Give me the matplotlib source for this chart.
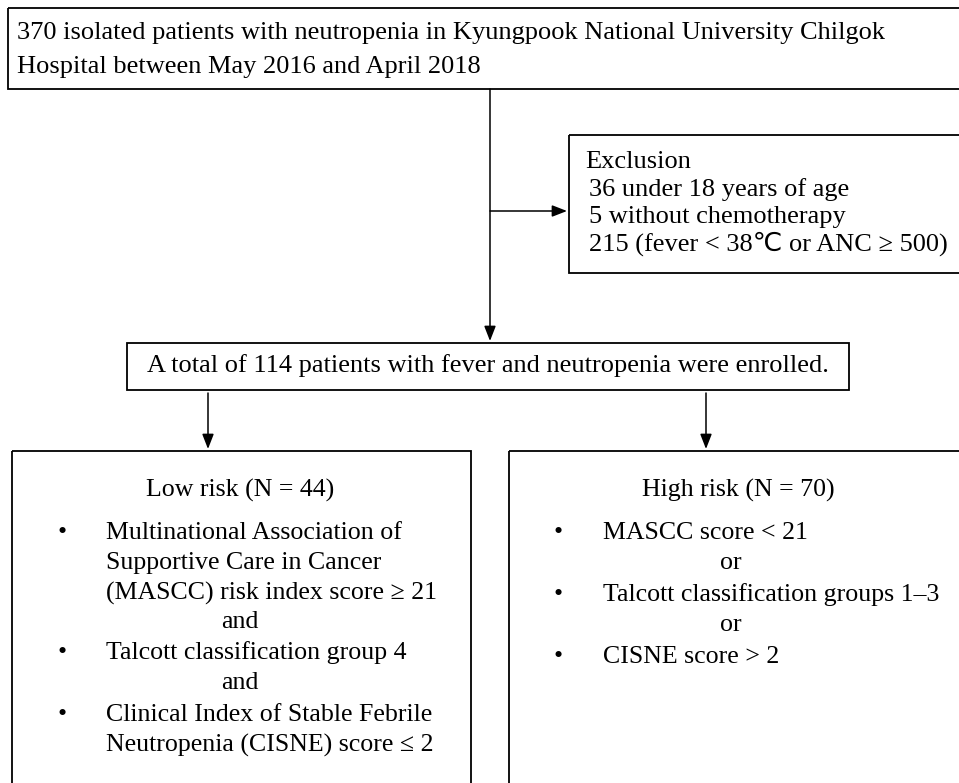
import matplotlib
matplotlib.use("Agg")
import matplotlib.pyplot as plt
from matplotlib.patches import Rectangle

# ---- content ----
top_lines = ["370 isolated patients with neutropenia in Kyungpook National University Chilgok",
             "Hospital between May 2016 and April 2018"]
excl_title = "Exclusion"
excl_items = ["36 under 18 years of age", "5 without chemotherapy",
              "215 (fever < 38\u2103 or ANC \u2265 500)"]
mid_text = "A total of 114 patients with fever and neutropenia were enrolled."
low_title = "Low risk (N = 44)"
low_items = [["Multinational Association of", "Supportive Care in Cancer",
              "(MASCC) risk index score \u2265 21"],
             ["Talcott classification group 4"],
             ["Clinical Index of Stable Febrile", "Neutropenia (CISNE) score \u2264 2"]]
low_join = "and"
high_title = "High risk (N = 70)"
high_items = [["MASCC score < 21"], ["Talcott classification groups 1\u20133"], ["CISNE score > 2"]]
high_join = "or"

W, H = 959, 783
fig = plt.figure(figsize=(W / 100, H / 100), dpi=100)
ax = fig.add_axes([0, 0, 1, 1])
ax.set_xlim(0, W)
ax.set_ylim(H, 0)
ax.axis("off")

FONT = ["Liberation Serif", "DejaVu Sans"]
lw = 1.3

def box(x0, y0, x1, y1):
    ax.add_patch(Rectangle((x0, y0), x1 - x0, y1 - y0, fill=False, ec="black", lw=lw))

def arrow(x0, y0, x1, y1):
    ax.annotate("", xy=(x1, y1), xytext=(x0, y0),
                arrowprops=dict(arrowstyle="-|>,head_length=0.9,head_width=0.35",
                                color="black", lw=1.1, shrinkA=0, shrinkB=0))

# boxes
box(8, 8, 970, 89)
box(569, 135, 970, 273)
box(127, 343, 849, 390)
box(12, 451, 471, 800)
box(509, 451, 970, 800)

# arrows
arrow(490, 89, 490, 341)
arrow(490, 211, 567, 211)
arrow(208, 393, 208, 449)
arrow(706, 393, 706, 449)

# top text
fs_top = 19
for i, t in enumerate(top_lines):
    ax.text(17, 33 + i * 34, t, fontsize=fs_top, family=FONT, va="center", ha="left")

# exclusion
fs_ex = 19
ax.text(585, 162, excl_title, fontsize=fs_ex, family=FONT, va="center")
for i, t in enumerate(excl_items):
    ax.text(589, 190 + i * 27, t, fontsize=fs_ex, family=FONT, va="center")

# middle
ax.text(488, 366, mid_text, fontsize=fs_top, family=FONT, va="center", ha="center")

# lower boxes
fs_low = 18.6
def column(title, tx, items, join, jx, bx, ix, ys):
    ax.text(tx, 490, title, fontsize=fs_low, family=FONT, va="center", ha="center")
    k = 0
    for gi, g in enumerate(items):
        for li, line in enumerate(g):
            if li == 0:
                ax.text(bx, ys[k], "\u2022", fontsize=fs_low, family=FONT, va="center", ha="center")
            ax.text(ix, ys[k], line, fontsize=fs_low, family=FONT, va="center", ha="left")
            k += 1
        if gi < len(items) - 1:
            ax.text(jx, ys[k], join, fontsize=fs_low, family=FONT, va="center", ha="center")
            k += 1

column(low_title, 240, low_items, low_join, 240, 62, 106,
       [533, 563, 593, 622, 653, 683, 715, 745])
column(high_title, 738, high_items, high_join, 731, 558, 603,
       [533, 563, 595, 625, 657])

fig.savefig("out.png", dpi=100)
